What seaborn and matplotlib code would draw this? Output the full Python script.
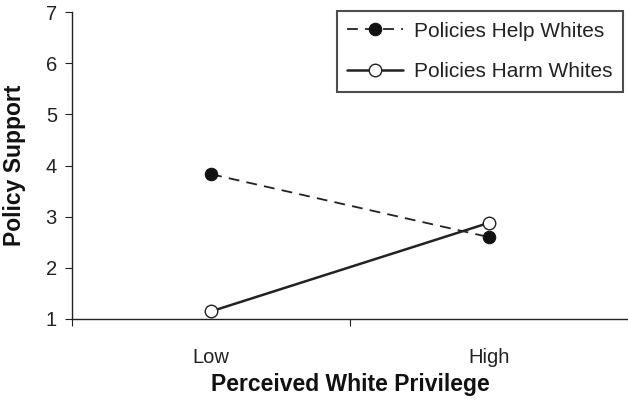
import pandas as pd
import seaborn as sns
from matplotlib import pyplot as plt

# values
privilege = ["Low", "High"]
help_whites = [3.83, 2.60]
harm_whites = [1.15, 2.88]
series_names = ["Policies Help Whites", "Policies Harm Whites"]
y_ticks = [1, 2, 3, 4, 5, 6, 7]

sns.set_theme(style="ticks")
plt.rcParams['font.family'] = ['Liberation Sans', 'DejaVu Sans']

fig = plt.figure(figsize=(6.28, 4.0), dpi=100)
ax = fig.add_axes([0.115, 0.2025, 0.885, 0.7675])

pos = list(range(len(privilege)))
df_help = pd.DataFrame({'x': pos, 'y': help_whites})
df_harm = pd.DataFrame({'x': pos, 'y': harm_whites})

sns.lineplot(data=df_help, x='x', y='y', ax=ax, color='#222222', linestyle=(0, (6, 4)),
             linewidth=1.3, marker='o', markersize=9, markerfacecolor='#111111',
             markeredgecolor='#111111', label=series_names[0], legend=False)
sns.lineplot(data=df_harm, x='x', y='y', ax=ax, color='#222222', linestyle='-',
             linewidth=1.8, marker='o', markersize=9, markerfacecolor='white',
             markeredgecolor='#222222', markeredgewidth=1.0, label=series_names[1], legend=False)

ax.set_xlim(-0.5, 1.5)
ax.set_ylim(1, 7)
ax.set_yticks(y_ticks)
ax.set_xticks(pos)
ax.set_xticklabels(privilege)
ax.set_xticks([-0.5, 0.5, 1.5], minor=True)
ax.tick_params(axis='x', which='major', length=0, pad=21, labelsize=14.5, colors='#222222')
ax.tick_params(axis='x', which='minor', length=5, width=0.8, color='#222222')
ax.tick_params(axis='y', length=5, width=0.8, pad=6, labelsize=14.5, colors='#222222')

for side in ['top', 'right']:
    ax.spines[side].set_visible(False)
for side in ['left', 'bottom']:
    ax.spines[side].set_color('#222222')
    ax.spines[side].set_linewidth(1.0)

ax.set_xlabel("Perceived White Privilege", fontsize=16.5, fontweight='bold', labelpad=4, color='#111111')
ax.set_ylabel("Policy Support", fontsize=16.5, fontweight='bold', labelpad=14, color='#111111')

leg = ax.legend(handles=ax.lines[:2], labels=series_names,
                loc='upper right', bbox_to_anchor=(0.992, 0.972), bbox_transform=fig.transFigure,
                frameon=True, fancybox=False, fontsize=15, handlelength=2.65, handletextpad=0.55,
                borderpad=0.5, labelspacing=1.05, borderaxespad=0)
leg.get_frame().set_edgecolor('#222222')
leg.get_frame().set_linewidth(1.5)
for t in leg.get_texts():
    t.set_color('#222222')

fig.savefig("out.png", dpi=100)
